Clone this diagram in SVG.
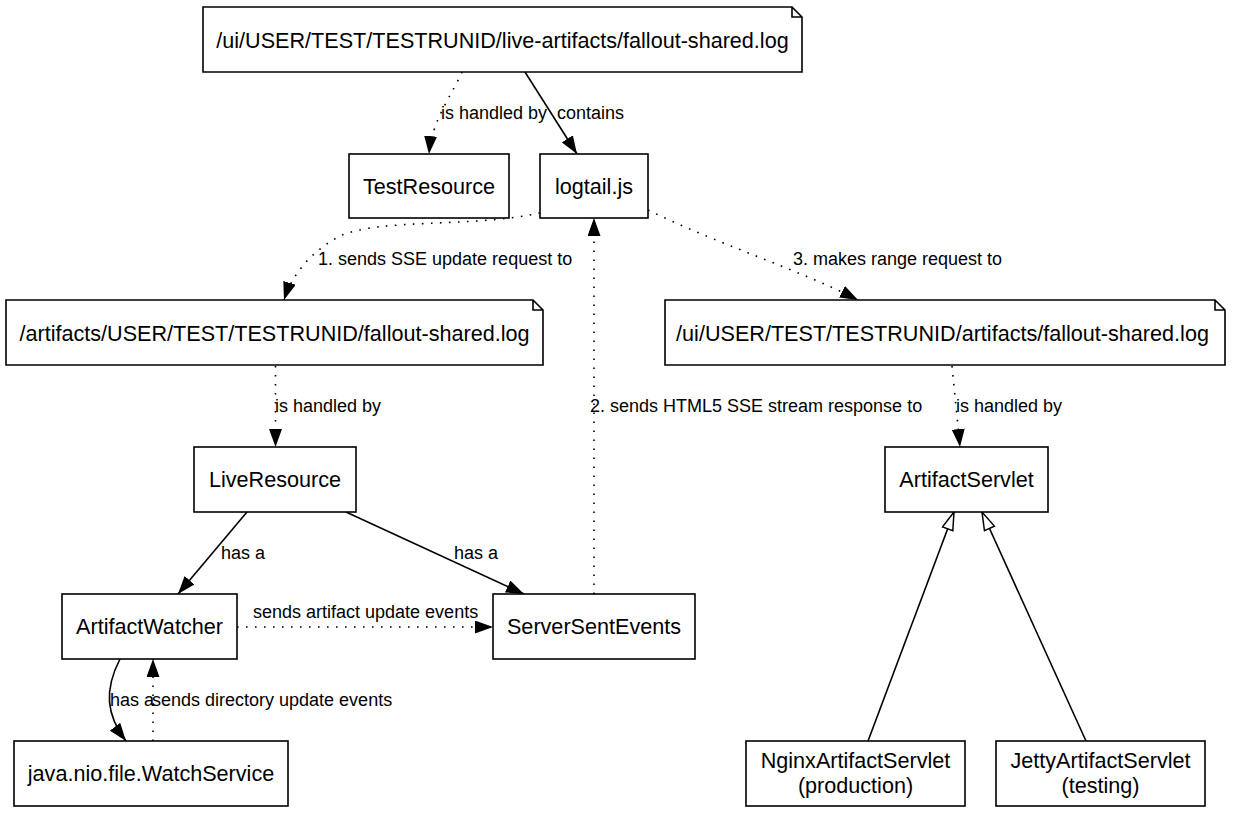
<svg xmlns="http://www.w3.org/2000/svg" width="1233" height="814" viewBox="0 0 1233 814">
<style>
  .box { fill: #fff; stroke: #000; stroke-width: 1.6; }
  .nt { font-family: "Liberation Sans", Arial, sans-serif; font-size: 21.6px; text-anchor: middle; fill: #000; }
  .lb { font-family: "Liberation Sans", Arial, sans-serif; font-size: 18px; fill: #000; }
  .solid { fill: none; stroke: #000; stroke-width: 1.6; }
  .dot { fill: none; stroke: #000; stroke-width: 1.6; stroke-dasharray: 1.6 7.4; }
</style>
<defs>
  <marker id="arrow" viewBox="0 0 18 13" refX="18" refY="6.5" markerWidth="18" markerHeight="13" markerUnits="userSpaceOnUse" orient="auto">
    <path d="M0,0 L18,6.5 L0,13 z" fill="#000"/>
  </marker>
  <marker id="tri" viewBox="-1 -1 20 13" refX="18" refY="5.5" markerWidth="20" markerHeight="13" markerUnits="userSpaceOnUse" orient="auto">
    <path d="M0,0 L18,5.5 L0,11 z" fill="#fff" stroke="#000" stroke-width="1.5"/>
  </marker>
</defs>
<rect width="1233" height="814" fill="#fff"/>

<g id="connectors">
  <path class="dot" d="M462,72 C452,95 432,120 429,154" marker-end="url(#arrow)"/>
  <path class="solid" d="M525,72 L577,154" marker-end="url(#arrow)"/>
  <path class="dot" d="M540,213 C470,228 380,218 340,236 C310,252 292,275 284,300" marker-end="url(#arrow)"/>
  <path class="dot" d="M594,594 L594,218" marker-end="url(#arrow)"/>
  <path class="dot" d="M648,210 C720,245 800,270 858,300" marker-end="url(#arrow)"/>
  <path class="dot" d="M275.5,366 L275.5,447" marker-end="url(#arrow)"/>
  <path class="dot" d="M952,366 L960,447" marker-end="url(#arrow)"/>
  <path class="solid" d="M247,512 L178,594" marker-end="url(#arrow)"/>
  <path class="solid" d="M346,512 L524,594" marker-end="url(#arrow)"/>
  <path class="dot" d="M237,627 L493,627" marker-end="url(#arrow)"/>
  <path class="solid" d="M120,659 C104,690 106,715 126,741" marker-end="url(#arrow)"/>
  <path class="dot" d="M153,741 L153,659" marker-end="url(#arrow)"/>
  <path class="solid" d="M868,741 L954,512" marker-end="url(#tri)"/>
  <path class="solid" d="M1086,741 L982,512" marker-end="url(#tri)"/>

  <text class="lb" x="441" y="119">is handled by</text>
  <text class="lb" x="557" y="119">contains</text>
  <text class="lb" x="318" y="265">1. sends SSE update request to</text>
  <text class="lb" x="590" y="412">2. sends HTML5 SSE stream response to</text>
  <text class="lb" x="793" y="265">3. makes range request to</text>
  <text class="lb" x="275" y="412">is handled by</text>
  <text class="lb" x="956" y="412">is handled by</text>
  <text class="lb" x="221" y="559">has a</text>
  <text class="lb" x="454" y="559">has a</text>
  <text class="lb" x="253" y="618">sends artifact update events</text>
  <text class="lb" x="110" y="706">has a</text>
  <text class="lb" x="152" y="706">sends directory update events</text>
</g>

<g id="n-live-artifacts">
  <path class="box" d="M203,7 L792,7 L802,17 L802,72 L203,72 Z M792,7 L792,17 L802,17"/>
  <text class="nt" x="502.5" y="47.5">/ui/USER/TEST/TESTRUNID/live-artifacts/fallout-shared.log</text>
</g>
<g id="n-testresource">
  <rect class="box" x="349" y="154" width="160" height="64"/>
  <text class="nt" x="429" y="193.5">TestResource</text>
</g>
<g id="n-logtail">
  <rect class="box" x="540" y="154" width="108" height="64"/>
  <text class="nt" x="594" y="193.5">logtail.js</text>
</g>
<g id="n-artifacts">
  <path class="box" d="M6,300 L533,300 L543,310 L543,365 L6,365 Z M533,300 L533,310 L543,310"/>
  <text class="nt" x="274.5" y="340.5">/artifacts/USER/TEST/TESTRUNID/fallout-shared.log</text>
</g>
<g id="n-ui-artifacts">
  <path class="box" d="M665,300 L1215,300 L1225,310 L1225,365 L665,365 Z M1215,300 L1215,310 L1225,310"/>
  <text class="nt" x="942.5" y="340.5">/ui/USER/TEST/TESTRUNID/artifacts/fallout-shared.log</text>
</g>
<g id="n-liveresource">
  <rect class="box" x="194" y="447" width="162" height="65"/>
  <text class="nt" x="275" y="487">LiveResource</text>
</g>
<g id="n-artifactservlet">
  <rect class="box" x="885" y="447" width="163" height="65"/>
  <text class="nt" x="966.5" y="487">ArtifactServlet</text>
</g>
<g id="n-artifactwatcher">
  <rect class="box" x="62" y="594" width="175" height="65"/>
  <text class="nt" x="149.5" y="634">ArtifactWatcher</text>
</g>
<g id="n-serversentevents">
  <rect class="box" x="493" y="594" width="202" height="65"/>
  <text class="nt" x="594" y="634">ServerSentEvents</text>
</g>
<g id="n-watchservice">
  <rect class="box" x="14" y="741" width="274" height="65"/>
  <text class="nt" x="151" y="781">java.nio.file.WatchService</text>
</g>
<g id="n-nginx">
  <rect class="box" x="746" y="741" width="219" height="65"/>
  <text class="nt" x="855.5" y="768">NginxArtifactServlet</text>
  <text class="nt" x="855.5" y="792.5">(production)</text>
</g>
<g id="n-jetty">
  <rect class="box" x="996" y="741" width="209" height="65"/>
  <text class="nt" x="1100.5" y="768">JettyArtifactServlet</text>
  <text class="nt" x="1100.5" y="792.5">(testing)</text>
</g>
</svg>
